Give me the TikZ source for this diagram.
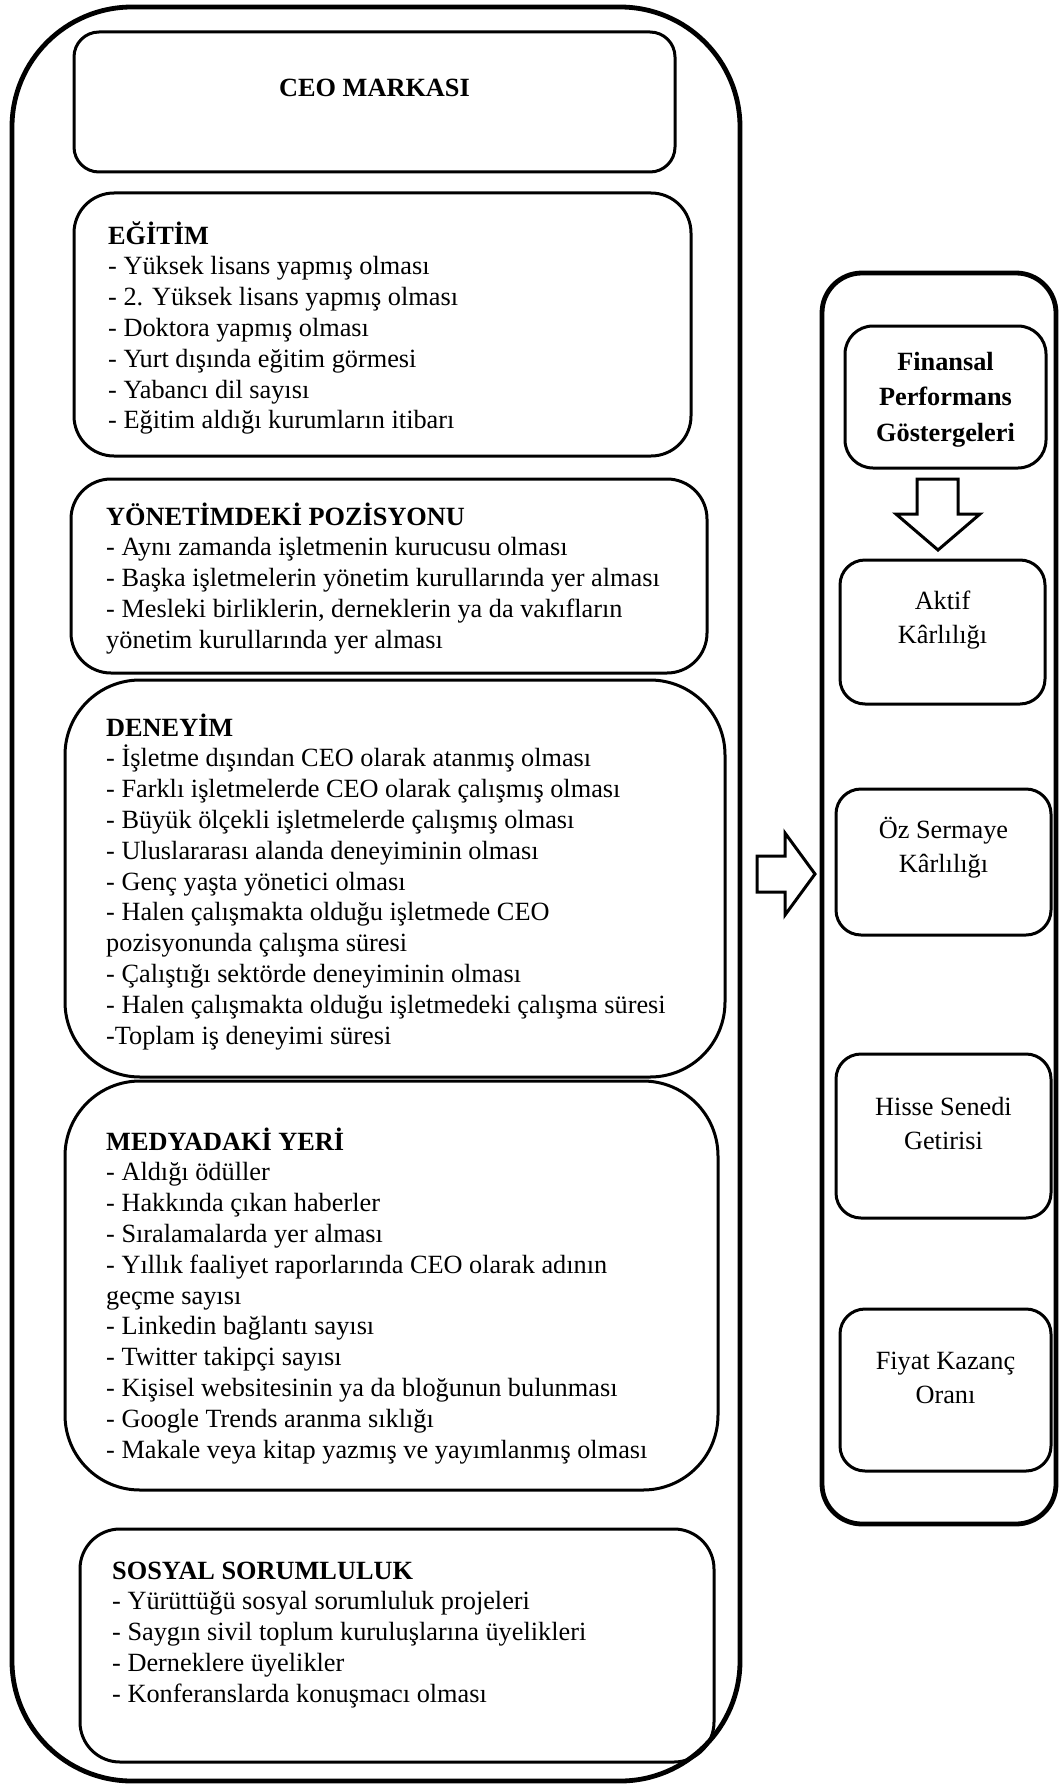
\documentclass[tikz,border=0pt]{standalone}
\usepackage{fontspec}
\setmainfont{Liberation Serif}
\begin{document}
\begin{tikzpicture}[x=1pt,y=-1pt,
  bigbox/.style={draw, line width=4.8pt, inner sep=0pt, outer sep=0pt},
  box/.style={draw, line width=3pt, inner sep=0pt, outer sep=0pt},
  listtext/.style={inner sep=0pt, anchor=base west, font=\fontsize{26.3}{30.8}\selectfont},
  ctext/.style={inner sep=0pt, anchor=base, font=\fontsize{26.3}{34.5}\selectfont},
  hollowarrow/.style={draw, line width=3pt, fill=white, line join=miter}
]
\useasboundingbox (0,0) rectangle (1059,1787);

% outer containers
\node[bigbox, rounded corners=120pt, minimum width=728pt, minimum height=1774pt] (outerL) at (376,894) {};
\node[bigbox, rounded corners=40pt, minimum width=234pt, minimum height=1251pt] (outerR) at (939,898.5) {};

% left boxes
\node[box, rounded corners=25pt, minimum width=601pt, minimum height=140pt] (ceo) at (374.5,102) {};
\node[box, rounded corners=40pt, minimum width=617pt, minimum height=263pt] (egitim) at (382.5,324.5) {};
\node[box, rounded corners=40pt, minimum width=636pt, minimum height=194pt] (yonetim) at (389,576) {};
\node[box, rounded corners=75pt, minimum width=660pt, minimum height=397pt] (deneyim) at (395,878.5) {};
\node[box, rounded corners=75pt, minimum width=653pt, minimum height=409pt] (medya) at (391.5,1285.5) {};
\node[box, rounded corners=40pt, minimum width=634pt, minimum height=233pt] (sosyal) at (397,1645.5) {};

% right boxes
\node[box, rounded corners=28pt, minimum width=201pt, minimum height=142pt] (finansal) at (945.5,397) {};
\node[box, rounded corners=25pt, minimum width=205pt, minimum height=144pt] (aktif) at (942.5,632) {};
\node[box, rounded corners=25pt, minimum width=215pt, minimum height=146pt] (oz) at (943.5,862) {};
\node[box, rounded corners=25pt, minimum width=215pt, minimum height=164pt] (hisse) at (943.5,1136) {};
\node[box, rounded corners=25pt, minimum width=211pt, minimum height=162pt] (fiyat) at (945.5,1390) {};

% texts left
\node[ctext] (ceot) at (374.5,97) {\bfseries CEO MARKASI};

\node[listtext] (egitimt) at (108,244) {\parbox[t]{600pt}{\raggedright
\textbf{EĞİTİM}\\
- Yüksek lisans yapmış olması\\
- 2. Yüksek lisans yapmış olması\\
- Doktora yapmış olması\\
- Yurt dışında eğitim görmesi\\
- Yabancı dil sayısı\\
- Eğitim aldığı kurumların itibarı}};

\node[listtext] (yonetimt) at (106,525) {\parbox[t]{620pt}{\raggedright
\textbf{YÖNETİMDEKİ POZİSYONU}\\
- Aynı zamanda işletmenin kurucusu olması\\
- Başka işletmelerin yönetim kurullarında yer alması\\
- Mesleki birliklerin, derneklerin ya da vakıfların\\
yönetim kurullarında yer alması}};

\node[listtext] (deneyimt) at (106,736) {\parbox[t]{620pt}{\raggedright
\textbf{DENEYİM}\\
- İşletme dışından CEO olarak atanmış olması\\
- Farklı işletmelerde CEO olarak çalışmış olması\\
- Büyük ölçekli işletmelerde çalışmış olması\\
- Uluslararası alanda deneyiminin olması\\
- Genç yaşta yönetici olması\\
- Halen çalışmakta olduğu işletmede CEO\\
pozisyonunda çalışma süresi\\
- Çalıştığı sektörde deneyiminin olması\\
- Halen çalışmakta olduğu işletmedeki çalışma süresi\\
-Toplam iş deneyimi süresi}};

\node[listtext] (medyat) at (106,1150) {\parbox[t]{620pt}{\raggedright
\textbf{MEDYADAKİ YERİ}\\
- Aldığı ödüller\\
- Hakkında çıkan haberler\\
- Sıralamalarda yer alması\\
- Yıllık faaliyet raporlarında CEO olarak adının\\
geçme sayısı\\
- Linkedin bağlantı sayısı\\
- Twitter takipçi sayısı\\
- Kişisel websitesinin ya da bloğunun bulunması\\
- Google Trends aranma sıklığı\\
- Makale veya kitap yazmış ve yayımlanmış olması}};

\node[listtext] (sosyalt) at (112,1579) {\parbox[t]{600pt}{\raggedright
\textbf{SOSYAL SORUMLULUK}\\
- Yürüttüğü sosyal sorumluluk projeleri\\
- Saygın sivil toplum kuruluşlarına üyelikleri\\
- Derneklere üyelikler\\
- Konferanslarda konuşmacı olması}};

% texts right
\node[ctext, font=\fontsize{26.3}{35.8}\selectfont] (finansalt) at (945.5,370) {\parbox[t]{200pt}{\centering\bfseries Finansal\\Performans\\Göstergeleri}};
\node[ctext] (aktift) at (942.5,609) {\parbox[t]{200pt}{\centering Aktif\\Kârlılığı}};
\node[ctext] (ozt) at (943.5,838) {\parbox[t]{210pt}{\centering Öz Sermaye\\Kârlılığı}};
\node[ctext] (hisset) at (943.5,1115) {\parbox[t]{210pt}{\centering Hisse Senedi\\Getirisi}};
\node[ctext] (fiyatt) at (945.5,1369) {\parbox[t]{210pt}{\centering Fiyat Kazanç\\Oranı}};

% hollow arrows
\draw[hollowarrow] (917,479) -- (958,479) -- (958,514) -- (980,514) -- (938,550) -- (896,514) -- (917,514) -- cycle;
\draw[hollowarrow] (757,856) -- (785,856) -- (785,833) -- (815,874) -- (785,915) -- (785,892) -- (757,892) -- cycle;
\end{tikzpicture}
\end{document}
